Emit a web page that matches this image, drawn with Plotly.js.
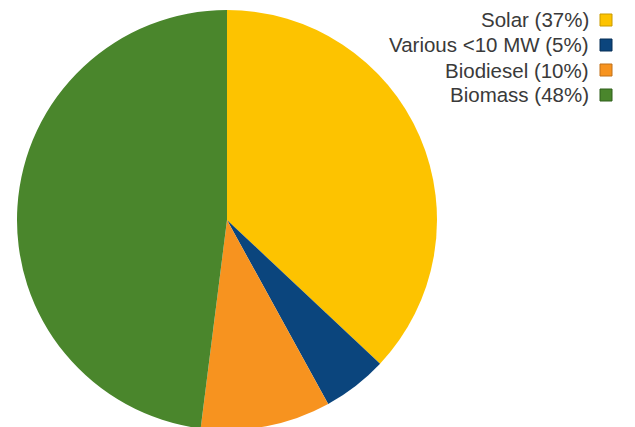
<!DOCTYPE html>
<html>
<head>
<meta charset="utf-8">
<script src="https://cdn.plot.ly/plotly-3.0.1.min.js"></script>
<style>
  html, body { margin: 0; padding: 0; overflow: hidden; background: #fff; }
  #chart { width: 635px; height: 430px; }
</style>
</head>
<body>
<div id="chart"></div>
<script>
// Renewable generation mix by source
const categories = ["Solar", "Various <10 MW", "Biodiesel", "Biomass"];
const shares = [37, 5, 10, 48];
const colors = ["#FDC300", "#0B457D", "#F7931F", "#4A862C"];
const borderColors = ["#C99A00", "#072F57", "#C0701A", "#2F5E1A"];

const labels = categories.map((c, i) => c + " (" + shares[i] + "%)");

const trace = {
  type: "pie",
  labels: categories,
  values: shares,
  sort: false,
  direction: "clockwise",
  rotation: 0,
  textinfo: "none",
  hoverinfo: "none",
  marker: { colors: colors, line: { width: 0 } },
  domain: { x: [17 / 635, 437 / 635], y: [0, 420 / 430] },
  showlegend: false
};

// Legend drawn at the upper right: text right-aligned, swatch to its right
const rowTop = 20, rowStep = 25, textRight = 591, swatchX = 600, swatch = 12;
const annotations = labels.map((t, i) => ({
  xref: "paper", yref: "paper",
  x: textRight / 635, y: 1 - (rowTop + i * rowStep) / 430,
  xanchor: "right", yanchor: "middle",
  text: t, showarrow: false,
  font: { family: "Liberation Sans, Arial, sans-serif", size: 20.5, color: "#3a3a3a" }
}));
const shapes = colors.map((c, i) => {
  const cy = rowTop + i * rowStep;
  return {
    type: "rect", xref: "paper", yref: "paper",
    x0: swatchX / 635, x1: (swatchX + swatch) / 635,
    y0: 1 - (cy - swatch / 2) / 430, y1: 1 - (cy + swatch / 2) / 430,
    fillcolor: c, line: { color: borderColors[i], width: 1 }
  };
});

const layout = {
  width: 635, height: 430,
  margin: { l: 0, r: 0, t: 0, b: 0 },
  paper_bgcolor: "#ffffff",
  annotations: annotations,
  shapes: shapes
};

Plotly.newPlot("chart", [trace], layout, { staticPlot: true, displayModeBar: false });
</script>
</body>
</html>
